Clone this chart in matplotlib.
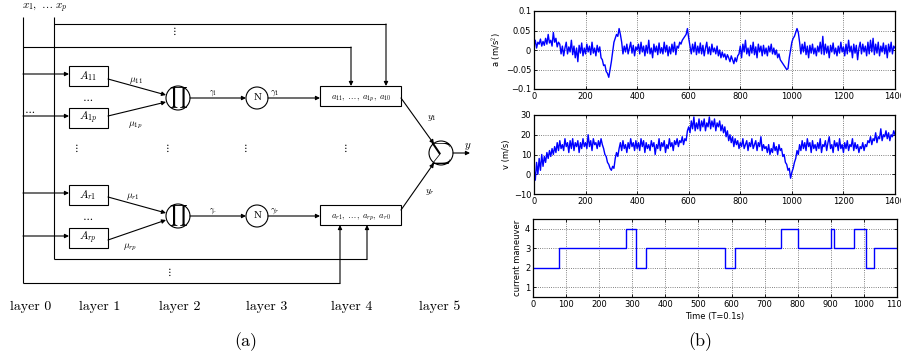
import numpy as np
import matplotlib
matplotlib.use("Agg")
import matplotlib.pyplot as plt
from matplotlib.patches import Rectangle, Circle

plt.rcParams["mathtext.fontset"] = "cm"

# ---- data ----
t_signal = np.arange(0, 1401, 5)

accel = [
    0.01, 0.025, 0.005, 0.02, 0.015, 0.028, 0.01, 0.022, 0.012, 0.03, 0.015, 0.04, 0.018, 0.025, 0.01, 0.045, 0.02, 0.03, 0.008, 0.02,
    0.015, -0.01, 0.01, -0.015, 0.005, 0.02, -0.01, 0.008, -0.005, 0.025, -0.012, 0.01, -0.02, 0.005, -0.03, 0.012, -0.008, 0.018, -0.015, 0.005,
    -0.01, 0.015, -0.005, 0.01, -0.012, 0.02, -0.008, 0.005, -0.015, 0.012, -0.005, 0.008, -0.02, -0.025, -0.04, -0.038, -0.055, -0.06, -0.07, -0.05,
    -0.03, -0.005, 0.02, 0.03, 0.04, 0.035, 0.055, 0.04, 0.02, -0.01, 0.01, -0.005, 0.015, -0.01, 0.005, 0.02, -0.008, 0.012, -0.015, 0.008,
    0.0, 0.015, -0.01, 0.02, -0.005, 0.01, -0.015, 0.012, -0.008, 0.025, -0.01, 0.005, -0.02, 0.015, -0.005, 0.01, -0.012, 0.018, -0.008, 0.006,
    -0.01, 0.02, -0.005, 0.012, -0.015, 0.008, -0.01, 0.015, -0.005, 0.02, -0.012, 0.01, 0.005, 0.02, 0.015, 0.025, 0.03, 0.035, 0.04, 0.055,
    0.03, 0.01, -0.01, 0.015, -0.005, 0.02, -0.012, 0.01, -0.008, 0.018, -0.01, 0.012, -0.015, 0.005, 0.02, -0.01, 0.008, -0.012, 0.015, -0.005,
    0.005, -0.01, 0.01, -0.015, 0.0, -0.02, -0.005, -0.018, -0.01, -0.025, -0.012, -0.02, -0.03, -0.015, -0.025, -0.035, -0.02, -0.03, -0.015, -0.01,
    0.01, -0.02, 0.015, -0.005, 0.025, -0.01, 0.005, -0.015, 0.012, -0.008, 0.02, -0.012, 0.008, -0.02, 0.015, -0.005, 0.01, -0.015, 0.012, -0.01,
    0.005, -0.015, 0.01, -0.005, 0.015, -0.01, 0.005, -0.012, 0.0, -0.02, -0.01, -0.025, -0.03, -0.035, -0.04, -0.045, -0.05, -0.048, -0.02, 0.0,
    0.02, 0.03, 0.035, 0.045, 0.055, 0.045, 0.02, -0.01, 0.015, -0.005, 0.02, -0.012, 0.01, -0.02, 0.012, -0.008, 0.015, -0.01, 0.005, -0.015,
    0.01, -0.005, 0.02, -0.01, 0.035, -0.012, 0.015, -0.008, 0.01, -0.02, 0.012, -0.005, 0.018, -0.01, 0.005, -0.015, 0.01, -0.008, 0.02, -0.005,
    0.008, -0.015, 0.015, -0.01, 0.025, -0.005, 0.01, -0.02, 0.015, -0.008, 0.012, -0.025, 0.005, 0.02, -0.01, 0.015, -0.005, 0.01, -0.015, 0.02,
    -0.01, 0.025, -0.005, 0.03, -0.012, 0.015, -0.008, 0.02, -0.015, 0.01, -0.005, 0.018, -0.01, 0.012, -0.02, 0.015, -0.005, 0.02, -0.01, 0.01,
    0.005,
]

speed = [
    3, -3, 6, 0, 8, 2, 10, 4, 9, 6, 11, 8, 12, 9, 13, 10, 14, 11, 16, 12,
    17, 13, 15, 12, 18, 14, 16, 11, 17, 13, 18, 12, 16, 14, 17, 11, 16, 13, 18, 14,
    16, 13, 20, 14, 17, 12, 18, 15, 16, 13, 17, 14, 18, 15, 13, 10, 9, 6, 5, 3,
    2, 4, 3, 8, 11, 9, 13, 16, 12, 17, 13, 15, 11, 16, 13, 18, 14, 16, 12, 17,
    13, 16, 12, 18, 14, 17, 11, 16, 13, 15, 12, 17, 14, 16, 10, 15, 13, 18, 12, 16,
    14, 17, 11, 15, 13, 18, 14, 16, 12, 17, 15, 18, 14, 17, 16, 19, 15, 18, 17, 22,
    24, 21, 27, 23, 29, 22, 26, 23, 28, 22, 27, 24, 28, 22, 26, 24, 29, 23, 27, 24,
    28, 22, 26, 24, 27, 22, 25, 21, 24, 19, 22, 17, 20, 16, 19, 14, 18, 15, 17, 13,
    16, 14, 18, 13, 15, 17, 12, 16, 14, 18, 13, 15, 17, 12, 16, 14, 19, 12, 15, 13,
    14, 11, 15, 10, 13, 11, 16, 12, 14, 10, 15, 12, 13, 9, 10, 6, 5, 2, 3, -2,
    1, 3, 6, 8, 12, 10, 15, 12, 17, 13, 16, 12, 18, 14, 16, 11, 17, 13, 15, 12,
    16, 13, 18, 11, 15, 14, 17, 12, 16, 19, 13, 15, 11, 17, 14, 16, 12, 18, 13, 15,
    11, 16, 13, 17, 12, 15, 14, 18, 12, 16, 13, 15, 11, 14, 13, 16, 12, 15, 14, 17,
    16, 19, 15, 18, 17, 21, 16, 19, 18, 23, 17, 20, 19, 22, 18, 21, 17, 20, 19, 22,
    20,
]

man_t = [0, 80, 280, 310, 340, 580, 610, 750, 800, 900, 910, 970, 1005, 1030, 1100]
man_v = [2, 3, 4, 2, 3, 2, 3, 4, 3, 4, 3, 4, 2, 3, 3]

layer_names = ["layer 0", "layer 1", "layer 2", "layer 3", "layer 4", "layer 5"]

fig = plt.figure(figsize=(9.01, 3.61), dpi=100)

# ---- (a) network diagram, drawn in pixel coordinates ----
d = fig.add_axes([0, 0, 1, 1])
d.set_xlim(0, 901)
d.set_ylim(361, 0)
d.axis("off")

LW = 0.8


def line(xs, ys):
    d.plot(xs, ys, color="k", lw=LW, solid_capstyle="butt")


def arrow(x0, y0, x1, y1):
    d.annotate("", xy=(x1, y1), xytext=(x0, y0),
               arrowprops=dict(arrowstyle="-|>", color="k", lw=LW,
                               mutation_scale=6, shrinkA=0, shrinkB=0))


def box(x, y, w, h):
    d.add_patch(Rectangle((x, y), w, h, fill=False, ec="k", lw=LW))


def circ(x, y, r):
    d.add_patch(Circle((x, y), r, fill=False, ec="k", lw=LW))


d.text(45, 8, r"$x_1,\ \ldots\ x_p$", fontsize=8, ha="center", va="center")

# input buses
line([23, 23], [17, 283])
line([54, 54], [17, 259])
line([54, 386], [24, 24])
arrow(386, 24, 386, 86)
line([23, 351], [47, 47])
arrow(351, 47, 351, 86)
line([54, 367], [259, 259])
arrow(367, 259, 367, 225)
line([23, 340], [283, 283])
arrow(340, 283, 340, 225)

# layer 1 membership boxes
for yb, lab in [(66, r"$A_{11}$"), (108, r"$A_{1p}$"), (185, r"$A_{r1}$"), (228, r"$A_{rp}$")]:
    arrow(23, yb + 8, 69, yb + 8)
    box(69, yb, 39, 20)
    d.text(88, yb + 10, lab, fontsize=8, ha="center", va="center")

# layer 2 product nodes and layer 3 normalisation nodes
for yc, w_lab in [(98, "1"), (216, "r")]:
    circ(178, yc, 12)
    d.text(178, yc, r"$\prod$", fontsize=10, ha="center", va="center")
    arrow(190, yc, 246, yc)
    d.text(213, yc - 5, r"$\gamma_%s$" % w_lab, fontsize=5.5, ha="center", va="center")
    circ(257, yc, 11)
    d.text(257, yc, "N", fontsize=6.5, family="DejaVu Serif", ha="center", va="center")
    arrow(268, yc, 320, yc)
    d.text(275, yc - 5, r"$\gamma_%s$" % w_lab, fontsize=6.5, ha="center", va="center")

arrow(108, 79, 166, 95)
arrow(108, 116, 166, 102)
arrow(108, 197, 166, 213)
arrow(108, 240, 166, 220)
d.text(136, 80, r"$\mu_{11}$", fontsize=7, ha="center", va="center")
d.text(135, 125, r"$\mu_{1p}$", fontsize=7, ha="center", va="center")
d.text(133, 196, r"$\mu_{r1}$", fontsize=7, ha="center", va="center")
d.text(130, 247, r"$\mu_{rp}$", fontsize=7, ha="center", va="center")

# layer 4 consequent boxes
box(320, 86, 81, 20)
box(320, 205, 81, 20)
d.text(361, 99, r"$a_{11},\ \ldots,\ a_{1p},\ a_{10}$", fontsize=6, ha="center", va="center")
d.text(361, 218, r"$a_{r1},\ \ldots,\ a_{rp},\ a_{r0}$", fontsize=6, ha="center", va="center")

# layer 5 sum
arrow(401, 98, 434, 144)
arrow(401, 210, 434, 163)
d.text(432, 118, r"$y_1$", fontsize=7, ha="center", va="center")
d.text(430, 192, r"$y_r$", fontsize=7, ha="center", va="center")
circ(441, 153, 12)
d.text(441, 153, r"$\sum$", fontsize=10, ha="center", va="center")
arrow(453, 153, 470, 153)
d.text(468, 146, r"$y$", fontsize=8, ha="center", va="center")

# dots
for xv, yv in [(174, 31), (76, 148), (167, 148), (245, 148), (345, 148), (169, 272)]:
    d.text(xv, yv, r"$\vdots$", fontsize=8, ha="center", va="center")
for xh, yh in [(88, 98), (30, 110), (88, 217)]:
    d.text(xh, yh, r"$\cdots$", fontsize=8, ha="center", va="center")

for xl, name in zip([31, 100, 180, 267, 352, 440], layer_names):
    d.text(xl, 307, name, fontsize=10, family="cmr10", ha="center", va="center")

d.text(246, 342, "(a)", fontsize=13, family="cmr10", ha="center", va="center")
d.text(700, 342, "(b)", fontsize=13, family="cmr10", ha="center", va="center")

# ---- (b) time series ----
W = 901.0
H = 361.0


def make_ax(x0, x1, ytop, ybot):
    ax = fig.add_axes([x0 / W, (H - ybot) / H, (x1 - x0) / W, (ybot - ytop) / H])
    ax.tick_params(direction="in", labelsize=6, length=2.5, width=0.6,
                   top=True, right=True, pad=2)
    for s in ax.spines.values():
        s.set_linewidth(0.9)
    ax.grid(True, linestyle=":", color="0.35", lw=0.6)
    return ax


ax1 = make_ax(534, 895, 11, 89)
ax1.plot(t_signal, accel, color="blue", lw=1.0)
ax1.set_xlim(0, 1400)
ax1.set_ylim(-0.1, 0.1)
ax1.set_xticks(np.arange(0, 1401, 200))
ax1.set_yticks([-0.1, -0.05, 0, 0.05, 0.1])
ax1.set_yticklabels(["\u22120.1", "\u22120.05", "0", "0.05", "0.1"])
ax1.set_ylabel(r"a (m/s$^2$)", fontsize=6, labelpad=2)

ax2 = make_ax(534, 895, 115, 194)
ax2.plot(t_signal, speed, color="blue", lw=1.0)
ax2.set_xlim(0, 1400)
ax2.set_ylim(-10, 30)
ax2.set_xticks(np.arange(0, 1401, 200))
ax2.set_yticks([-10, 0, 10, 20, 30])
ax2.set_yticklabels(["\u221210", "0", "10", "20", "30"])
ax2.set_ylabel("v (m/s)", fontsize=6, labelpad=2)

ax3 = make_ax(533, 897, 219, 297)
ax3.step(man_t, man_v, where="post", color="blue", lw=1.0)
ax3.set_xlim(0, 1100)
ax3.set_ylim(0.5, 4.5)
ax3.set_xticks(np.arange(0, 1101, 100))
ax3.set_yticks([1, 2, 3, 4])
ax3.set_ylabel("current maneuver", fontsize=6, labelpad=2)
ax3.set_xlabel("Time (T=0.1s)", fontsize=6, labelpad=2)

fig.savefig("out.png", dpi=100)
